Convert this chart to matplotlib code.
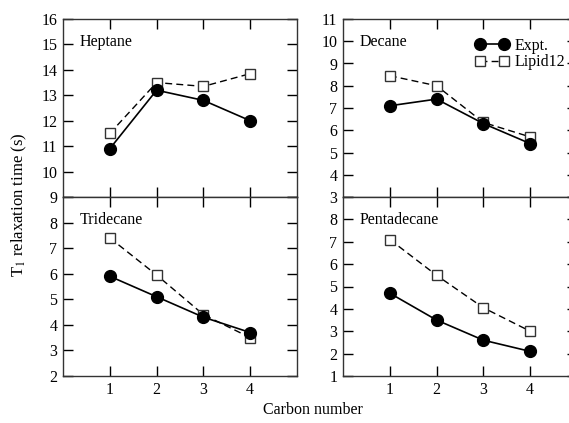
import matplotlib
matplotlib.use("Agg")
import matplotlib.pyplot as plt

plt.rcParams['font.family'] = ['Liberation Serif', 'DejaVu Serif']
plt.rcParams['mathtext.fontset'] = 'stix'

carbon = [1, 2, 3, 4]
panels = ["Heptane", "Decane", "Tridecane", "Pentadecane"]
expt = {
    "Heptane": [10.9, 13.2, 12.8, 12.0],
    "Decane": [7.1, 7.4, 6.3, 5.4],
    "Tridecane": [5.9, 5.1, 4.3, 3.7],
    "Pentadecane": [4.7, 3.5, 2.6, 2.1],
}
lipid12 = {
    "Heptane": [11.5, 13.5, 13.35, 13.85],
    "Decane": [8.45, 8.0, 6.35, 5.7],
    "Tridecane": [7.4, 5.95, 4.4, 3.5],
    "Pentadecane": [7.1, 5.5, 4.05, 3.0],
}
ylims = {
    "Heptane": (9, 16),
    "Decane": (3, 11),
    "Tridecane": (2, 9),
    "Pentadecane": (1, 9),
}
xticks = [1, 2, 3, 4]

W, H = 569, 423
FS = 11.5
fig = plt.figure(figsize=(W / 100, H / 100), dpi=100)

def px_axes(x0, y0, x1, y1):
    return fig.add_axes([x0 / W, 1 - y1 / H, (x1 - x0) / W, (y1 - y0) / H])

rects = {
    "Heptane": (63, 19, 297, 197),
    "Decane": (343, 19, 577, 197),
    "Tridecane": (63, 197, 297, 376),
    "Pentadecane": (343, 197, 577, 376),
}

for name in panels:
    ax = px_axes(*rects[name])
    l1, = ax.plot(carbon, expt[name], '-', color='black', lw=1.2, marker='o',
                  ms=8.5, mfc='black', mec='black', label='Expt.', zorder=3)
    l2, = ax.plot(carbon, lipid12[name], '--', color='black', lw=1.0, marker='s',
                  ms=7, mfc='white', mec='#333333', mew=1.0, label='Lipid12',
                  dashes=(5, 3), zorder=2)
    ax.set_xlim(0, 5)
    lo, hi = ylims[name]
    ax.set_ylim(lo, hi)
    ax.set_xticks(xticks)
    yt = list(range(lo, hi + 1))
    ax.set_yticks(yt)
    bottom_row = name in ("Tridecane", "Pentadecane")
    labels = [str(v) for v in yt]
    if bottom_row:
        labels[-1] = ""
    ax.set_yticklabels(labels)
    ax.tick_params(direction='in', length=7, width=1.0, top=True, right=True,
                   labelsize=FS, pad=4, colors='black')
    if not bottom_row:
        ax.tick_params(labelbottom=False)
    for s in ax.spines.values():
        s.set_linewidth(1.0)
        s.set_color('#333333')
    ax.text(0.07, 0.87, name, transform=ax.transAxes, fontsize=FS,
            ha='left', va='center')
    if name == "Decane":
        ax.legend(handles=[l1, l2], loc='upper left', bbox_to_anchor=(0.565, 0.895),
                  frameon=False, numpoints=2, handlelength=2.1, handletextpad=0.35,
                  borderpad=0, borderaxespad=0, labelspacing=0.05, fontsize=FS)

fig.text(313 / W, 1 - 410 / H, "Carbon number", ha='center', va='center', fontsize=FS)
fig.text(19 / W, 1 - 205 / H, r"T$_1$ relaxation time (s)", ha='center', va='center',
         rotation=90, fontsize=12)

fig.savefig("out.png", dpi=100)
